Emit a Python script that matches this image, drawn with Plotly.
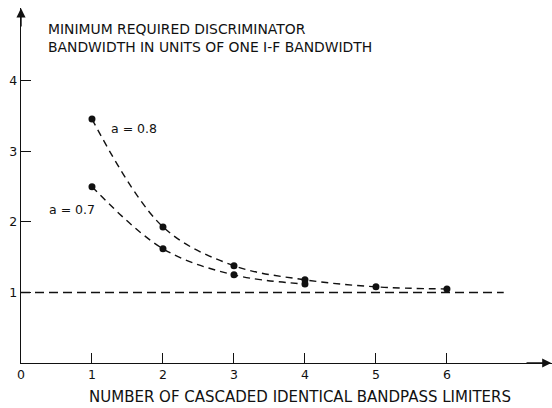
import plotly.graph_objects as go

# Data
x_a08 = [1, 2, 3, 4, 5, 6]
y_a08 = [3.46, 1.93, 1.38, 1.18, 1.08, 1.05]
x_a07 = [1, 2, 3, 4]
y_a07 = [2.50, 1.62, 1.25, 1.12]
ref_x = [0, 6.8]
ref_y = [1, 1]
x_ticks = [0, 1, 2, 3, 4, 5, 6]
y_ticks = [1, 2, 3, 4]
label_a08 = "a = 0.8"
label_a07 = "a = 0.7"
y_title = "MINIMUM REQUIRED DISCRIMINATOR<br>BANDWIDTH IN UNITS OF ONE I-F BANDWIDTH"
x_title = "NUMBER OF CASCADED IDENTICAL BANDPASS LIMITERS"

FONT = "DejaVu Sans, Liberation Sans, sans-serif"
INK = "#111111"

fig = go.Figure()
fig.add_trace(go.Scatter(x=ref_x, y=ref_y, mode="lines",
                         line=dict(color=INK, width=1.4, dash="9px,5px"),
                         showlegend=False, hoverinfo="skip"))
for xs, ys in [(x_a08, y_a08), (x_a07, y_a07)]:
    fig.add_trace(go.Scatter(x=xs, y=ys, mode="lines+markers",
                             line=dict(color=INK, width=1.4, dash="7px,5px",
                                       shape="spline", smoothing=1.0),
                             marker=dict(color=INK, size=7),
                             showlegend=False, hoverinfo="skip"))

fig.update_layout(
    width=552, height=408,
    margin=dict(l=21, r=0, t=8, b=45),
    paper_bgcolor="white", plot_bgcolor="white",
    font=dict(family=FONT, color=INK, size=12),
    xaxis=dict(range=[0, 7.48], showgrid=False, zeroline=False,
               showline=True, linecolor=INK, linewidth=1.4,
               tickvals=x_ticks, ticktext=[str(v) for v in x_ticks],
               ticks="inside", ticklen=10, tickcolor=INK, tickwidth=1,
               tickfont=dict(size=12.5, family=FONT, color=INK)),
    yaxis=dict(range=[0, 5.035], showgrid=False, zeroline=False,
               showline=True, linecolor=INK, linewidth=1.4,
               tickvals=y_ticks, ticktext=[str(v) for v in y_ticks],
               ticks="inside", ticklen=10, tickcolor=INK, tickwidth=1,
               tickfont=dict(size=12.5, family=FONT, color=INK)),
)

# axis arrows
fig.add_annotation(x=0, y=5.03, ax=0, ay=4.75, xref="x", yref="y",
                   axref="x", ayref="y", showarrow=True, arrowhead=2,
                   arrowsize=1.3, arrowwidth=1.4, arrowcolor=INK, text="")
fig.add_annotation(x=7.47, y=0, ax=7.1, ay=0, xref="x", yref="y",
                   axref="x", ayref="y", showarrow=True, arrowhead=2,
                   arrowsize=1.3, arrowwidth=1.4, arrowcolor=INK, text="")

# titles
fig.add_annotation(x=(46 - 21) / 531, y=(363 - 37.5) / 355, xref="paper", yref="paper",
                   xanchor="left", yanchor="middle", align="left", showarrow=False,
                   text=y_title, font=dict(size=13.9, family=FONT, color=INK))
fig.add_annotation(x=(300 - 21) / 531, y=-(397 - 363) / 355, xref="paper", yref="paper",
                   xanchor="center", yanchor="middle", showarrow=False,
                   text=x_title, font=dict(size=15, family=FONT, color=INK))

# curve labels
fig.add_annotation(x=1.59, y=3.33, xref="x", yref="y", showarrow=False,
                   text=label_a08, font=dict(size=12.5, family=FONT, color=INK))
fig.add_annotation(x=0.72, y=2.18, xref="x", yref="y", showarrow=False,
                   text=label_a07, font=dict(size=12.5, family=FONT, color=INK))

fig.write_html("out.html")
